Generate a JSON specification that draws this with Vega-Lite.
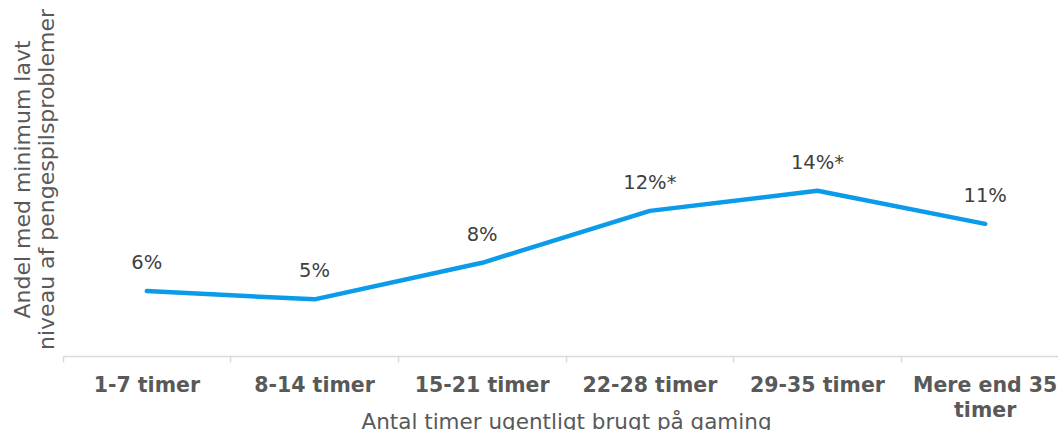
{
  "$schema": "https://vega.github.io/schema/vega-lite/v6.json",
  "autosize": {"type": "none"},
  "padding": {"left": 63, "top": 2, "right": 0, "bottom": 74},
  "width": 1006,
  "height": 354,
  "background": "white",
  "config": {"view": {"stroke": null}, "font": "DejaVu Sans"},
  "data": {"values": [
    {"kategori": "1-7 timer", "andel": 0.055, "label": "6%"},
    {"kategori": "8-14 timer", "andel": 0.048, "label": "5%"},
    {"kategori": "15-21 timer", "andel": 0.079, "label": "8%"},
    {"kategori": "22-28 timer", "andel": 0.123, "label": "12%*"},
    {"kategori": "29-35 timer", "andel": 0.140, "label": "14%*"},
    {"kategori": "Mere end 35 timer", "andel": 0.112, "label": "11%"}
  ]},
  "encoding": {
    "x": {
      "field": "kategori", "type": "nominal", "sort": null,
      "scale": {"type": "band", "paddingInner": 0, "paddingOuter": 0},
      "axis": {
        "title": "Antal timer ugentligt brugt på gaming",
        "titleFont": "DejaVu Sans", "titleFontSize": 21.5, "titleFontWeight": "normal", "titleColor": "#595959",
        "titleY": 72, "titleBaseline": "alphabetic",
        "labelAngle": 0, "labelFont": "DejaVu Sans", "labelFontSize": 20.5, "labelFontWeight": "bold", "labelColor": "#595959",
        "labelPadding": 13, "labelLimit": 200,
        "labelExpr": "datum.value == 'Mere end 35 timer' ? ['Mere end 35', 'timer'] : datum.value",
        "labelLineHeight": 25,
        "domainColor": "#d9d9d9", "domainWidth": 1.5,
        "tickColor": "#d9d9d9", "tickSize": 6, "tickWidth": 1.5, "bandPosition": 0,
        "grid": false
      }
    },
    "y": {
      "field": "andel", "type": "quantitative",
      "scale": {"domain": [0, 0.3], "nice": false, "zero": true},
      "axis": {
        "title": ["Andel med minimum lavt", "niveau af pengespilsproblemer"],
        "titleFont": "DejaVu Sans", "titleFontSize": 22, "titleFontWeight": "normal", "titleColor": "#595959",
        "titleLineHeight": 24, "titlePadding": 5,
        "labels": false, "ticks": false, "domain": false, "grid": false
      }
    }
  },
  "layer": [
    {"mark": {"type": "line", "color": "#0a9be9", "strokeWidth": 4.5, "strokeCap": "round", "strokeJoin": "round"}},
    {"mark": {"type": "text", "dy": -28, "baseline": "middle", "align": "center", "fontSize": 19.5, "font": "DejaVu Sans", "color": "#404040"},
     "encoding": {"text": {"field": "label"}}}
  ]
}
